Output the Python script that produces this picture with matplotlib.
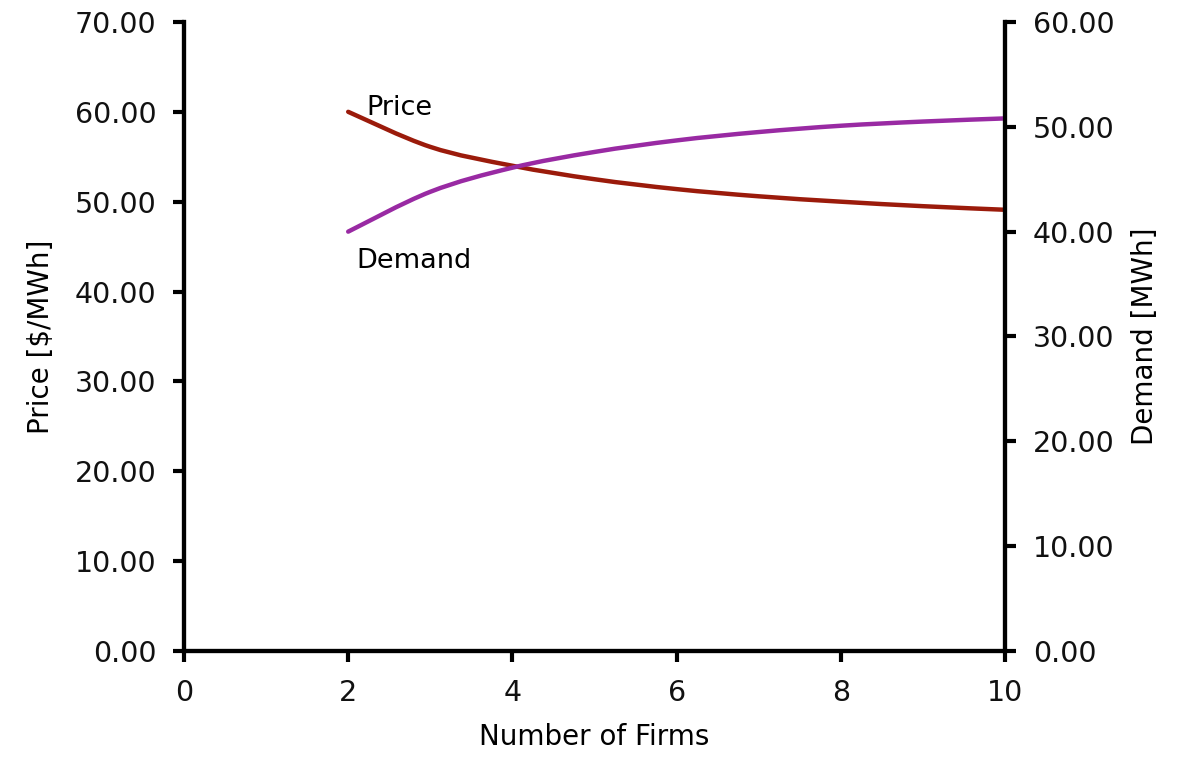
import matplotlib
matplotlib.use("Agg")
import matplotlib.pyplot as plt
from matplotlib.path import Path
from matplotlib.patches import PathPatch

firms = [2, 3, 4, 5, 6, 7, 8, 9, 10]
price = [60.0, 56.1, 54.0, 52.5, 51.4, 50.6, 50.0, 49.5, 49.1]
demand = [40.0, 43.8, 46.1, 47.6, 48.7, 49.5, 50.1, 50.5, 50.8]


def smooth_path(xs, ys):
    # Excel-style smoothed line drawn as cubic Bezier segments through the data points
    n = len(xs)
    verts = [(xs[0], ys[0])]
    codes = [Path.MOVETO]
    for i in range(n - 1):
        i0 = max(i - 1, 0)
        i3 = min(i + 2, n - 1)
        c1 = (xs[i] + (xs[i + 1] - xs[i0]) / 6, ys[i] + (ys[i + 1] - ys[i0]) / 6)
        c2 = (xs[i + 1] - (xs[i3] - xs[i]) / 6, ys[i + 1] - (ys[i3] - ys[i]) / 6)
        verts += [c1, c2, (xs[i + 1], ys[i + 1])]
        codes += [Path.CURVE4] * 3
    return Path(verts, codes)


plt.rcParams['font.family'] = ['DejaVu Sans']
fig = plt.figure(figsize=(11.84, 7.57), dpi=100)
ax = fig.add_axes([0.1554, 0.140, 0.6934, 0.831])
ax2 = ax.twinx()

price_color = '#9B1B0B'
demand_color = '#992AA3'
ax.add_patch(PathPatch(smooth_path(firms, price), facecolor='none',
                       edgecolor=price_color, lw=3.2, capstyle='round'))
ax2.add_patch(PathPatch(smooth_path(firms, demand), facecolor='none',
                        edgecolor=demand_color, lw=3.2, capstyle='round'))

ax.set_xlim(0, 10)
ax.set_ylim(0, 70)
ax2.set_ylim(0, 60)
ax.set_xticks(range(0, 11, 2))
ax.set_yticks(range(0, 71, 10))
ax2.set_yticks(range(0, 61, 10))
ax.set_yticklabels([f"{v:.2f}" for v in range(0, 71, 10)])
ax2.set_yticklabels([f"{v:.2f}" for v in range(0, 61, 10)])

for a in (ax, ax2):
    a.spines['top'].set_visible(False)
    for s in ('left', 'right', 'bottom'):
        a.spines[s].set_linewidth(3)
    a.tick_params(width=3, length=8, labelsize=20.5, direction='out', pad=12,
                  labelcolor='#111111')
ax.tick_params(axis='x', pad=12)

ax.set_xlabel("Number of Firms", fontsize=20, labelpad=12)
ax.set_ylabel("Price [$/MWh]", fontsize=20, labelpad=14)
ax2.set_ylabel("Demand [MWh]", fontsize=20, labelpad=12)

ax.text(2.22, 59.0, "Price", fontsize=19.5, va='bottom', ha='left')
ax2.text(2.1, 38.4, "Demand", fontsize=19.5, va='top', ha='left')

fig.savefig("out.png", dpi=100)
